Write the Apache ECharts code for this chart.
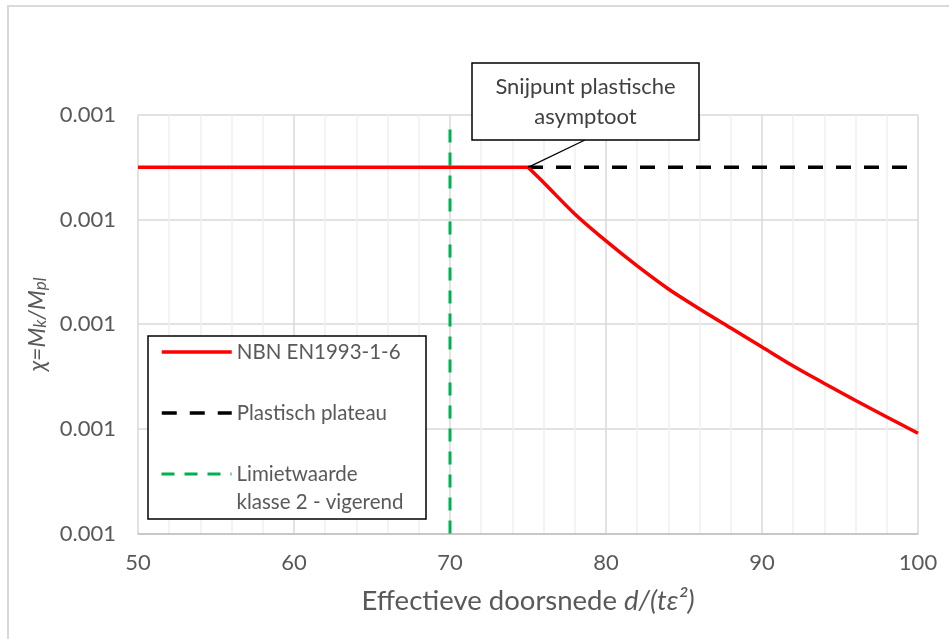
<!DOCTYPE html>
<html>
<head>
<meta charset="utf-8">
<title>Knikweerstand χ</title>
<script src="https://cdn.jsdelivr.net/npm/echarts@6/dist/echarts.min.js"></script>
<style>
  html, body { margin: 0; padding: 0; background: #ffffff; }
  #chart { width: 949px; height: 639px; }
</style>
</head>
<body>
<div id="chart"></div>
<script>
// Slenderness d/(t·ε²) at which the curve is sampled
const slenderness = [50, 75, 76, 78, 80, 82, 84, 86, 88, 90, 92, 94, 96, 98, 100];
// χ = Mk/Mpl according to NBN EN1993-1-6
const chiEN = [0.00115, 0.00115, 0.0011355, 0.0011054, 0.0010796, 0.0010557, 0.0010337,
               0.0010146, 0.0009964, 0.0009783, 0.0009601, 0.0009434, 0.0009271, 0.0009114, 0.0008958];
// Index where the plateau ends and the reduction curve begins
const kneeIndex = 1;
// Plastic plateau from the intersection point onward
const plateauX = [75, 100];
const plateauY = [0.00115, 0.00115];
// Class 2 limit (vertical line)
const limitX = [70, 70];
const limitY = [0.0008, 0.00119];
// Intersection point referenced by the callout
const asymptotePoint = [75, 0.00115];

const names = {
  en: 'NBN EN1993-1-6',
  plateau: 'Plastisch plateau',
  limit: 'Limietwaarde klasse 2 - vigerend'
};

const FONT = 'Lato, "Open Sans", sans-serif';
const GREY = '#595959';

const zip = (xs, ys) => xs.map((x, i) => [x, ys[i]]);
const enPoints = zip(slenderness, chiEN);

const legendText = {
  fontFamily: FONT, fontSize: 20.5, color: GREY, lineHeight: 28
};
const legendBase = {
  left: 160, itemWidth: 70, itemHeight: 14, padding: 0, selectedMode: false,
  orient: 'vertical', z: 5,
  itemStyle: { opacity: 0 }   // line only, no point symbol in the key
};

const redLine = { color: '#ff0000', width: 3.5 };

const chart = echarts.init(document.getElementById('chart'), null, { renderer: 'canvas' });

chart.setOption({
  animation: false,
  backgroundColor: '#ffffff',
  grid: { left: 138, right: 31, top: 115, bottom: 105.5, containLabel: false },
  xAxis: {
    type: 'value', min: 50, max: 100, interval: 10,
    axisLine: { show: true, lineStyle: { color: '#bfbfbf', width: 1.5 } },
    axisTick: { show: false },
    axisLabel: { fontFamily: FONT, fontSize: 22, color: GREY, margin: 18 },
    splitLine: { show: true, lineStyle: { color: '#d9d9d9', width: 1.5 } },
    minorTick: { show: false, splitNumber: 5 },
    minorSplitLine: { show: true, lineStyle: { color: '#efefef', width: 1.5 } },
    name: '{a|Effectieve doorsnede }{b|d/(tε²)}',
    nameLocation: 'middle', nameGap: 54,
    nameTextStyle: {
      rich: {
        a: { fontFamily: FONT, fontSize: 27.5, color: GREY },
        b: { fontFamily: FONT, fontSize: 27.5, color: GREY, fontStyle: 'italic' }
      }
    }
  },
  yAxis: {
    type: 'value', min: 0.0008, max: 0.0012, interval: 0.0001,
    axisLine: { show: false },
    axisTick: { show: false },
    axisLabel: {
      fontFamily: FONT, fontSize: 22, color: GREY, margin: 22,
      formatter: v => v.toFixed(3)
    },
    splitLine: { show: true, lineStyle: { color: '#d9d9d9', width: 1.5 } },
    name: '{a|χ=M}{s|k}{a|/M}{s|pl}',
    nameLocation: 'middle', nameGap: 74,
    nameTextStyle: {
      rich: {
        a: { fontFamily: FONT, fontSize: 23, color: GREY, fontStyle: 'italic', verticalAlign: 'bottom' },
        s: { fontFamily: FONT, fontSize: 17, color: GREY, fontStyle: 'italic', verticalAlign: 'bottom' }
      }
    }
  },
  legend: [
    Object.assign({}, legendBase, {
      top: 338, data: [names.en], textStyle: legendText,
      lineStyle: { width: 3.5 }
    }),
    Object.assign({}, legendBase, {
      top: 399, data: [names.plateau], textStyle: legendText,
      lineStyle: { width: 3.5 }
    }),
    Object.assign({}, legendBase, {
      top: 432, data: [names.limit],
      // leading blank line keeps the key line level with the first text line
      formatter: () => ' \nLimietwaarde\nklasse 2 - vigerend',
      textStyle: legendText,
      lineStyle: { width: 3 }
    })
  ],
  graphic: [
    {
      // outer chart frame
      type: 'rect', z: 0, silent: true,
      shape: { x: 8, y: 6, width: 980, height: 700 },
      style: { fill: null, stroke: '#d9d9d9', lineWidth: 2 }
    },
    {
      // legend frame
      type: 'rect', z: 4, silent: true,
      shape: { x: 148, y: 336, width: 278, height: 183 },
      style: { fill: '#ffffff', stroke: '#000000', lineWidth: 1.5 }
    },
    {
      // callout box
      type: 'rect', z: 10, silent: true,
      shape: { x: 472, y: 63, width: 227, height: 77 },
      style: { fill: '#ffffff', stroke: '#000000', lineWidth: 1.5 }
    },
    {
      type: 'text', z: 11, silent: true, x: 585.5, y: 101.5,
      style: {
        text: 'Snijpunt plastische\nasymptoot',
        fontFamily: FONT, fontSize: 22, lineHeight: 30,
        fill: '#404040', align: 'center', verticalAlign: 'middle'
      }
    }
  ],
  series: [
    {
      name: names.limit, type: 'line', showSymbol: false, symbol: 'none',
      data: zip(limitX, limitY), z: 3,
      lineStyle: { color: '#00b050', width: 3, type: [13, 10] },
      itemStyle: { color: '#00b050' }
    },
    {
      name: names.plateau, type: 'line', showSymbol: false, symbol: 'none',
      data: zip(plateauX, plateauY), z: 3,
      lineStyle: { color: '#000000', width: 3.5, type: [15, 13] },
      itemStyle: { color: '#000000' },
      markLine: {
        silent: true, symbol: ['none', 'none'], animation: false,
        label: { show: false },
        lineStyle: { color: '#000000', width: 1.3, type: 'solid' },
        data: [[{ coord: asymptotePoint }, { x: 585, y: 140 }]]
      }
    },
    {
      // flat part up to the knee
      name: names.en, type: 'line', showSymbol: false, symbol: 'none',
      data: enPoints.slice(0, kneeIndex + 1), z: 4,
      lineStyle: redLine, itemStyle: { color: '#ff0000' }
    },
    {
      // reduction curve beyond the knee
      name: names.en, type: 'line', showSymbol: false, symbol: 'none',
      data: enPoints.slice(kneeIndex), z: 4,
      smooth: 0.3,
      lineStyle: redLine, itemStyle: { color: '#ff0000' }
    }
  ]
});
</script>
</body>
</html>
